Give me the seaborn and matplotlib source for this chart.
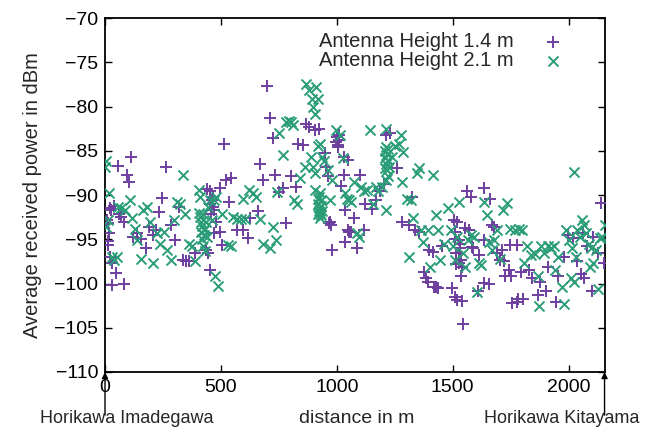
import matplotlib
matplotlib.use("Agg")
import matplotlib.pyplot as plt
import seaborn as sns
import pandas as pd

# ---- data ----
h14_x = [18, 11, 14, 23, 28, 8, 12, 20, 32, 32, 46, 57, 80, 97, 103, 111, 40, 60, 68, 80,
         122, 140, 157, 175, 190, 205, 220, 234, 247, 264, 284, 300, 318, 336, 350, 363, 390,
         440, 453, 462, 465, 470, 458, 455, 468, 444, 453, 435, 470, 479, 497, 515, 524, 544,
         533, 506, 494, 569, 596, 617, 626, 658, 667, 680, 698, 712, 725, 733, 751, 766, 780,
         801, 823, 832, 856, 869, 882, 905, 923, 950, 955, 962, 980, 968, 975, 972, 995, 1000,
         1005, 1010, 1003, 1008, 1030, 1048, 1030, 1020, 1034, 1048, 1052, 1061, 1037, 1073,
         1088, 1102, 1116, 1123, 1150, 1168, 1186, 1204, 1213, 1231, 1258, 1281, 1311, 1324,
         1338, 1356, 1374, 1383, 1392, 1413, 1428, 1437, 1455, 1496, 1508, 1517, 1540, 1544,
         1517, 1526, 1531, 1535, 1539, 1526, 1535, 1529, 1533, 1562, 1580, 1571, 1589, 1607,
         1637, 1660, 1658, 1680, 1689, 1723, 1741, 1753, 1776, 1776, 1794, 1803, 1830, 1842,
         1866, 1875, 1902, 1911, 1946, 1955, 1982, 1996, 2018, 2036, 2054, 2068, 2081, 2099,
         2125, 2138, 2152, 2107, 2063, 1398, 1420, 1505, 1554, 1634, 1747, 1712, 1726, 1755,
         1783, 1634, 1670, 1705, 1584, 1612, 1510, 1513, 1515, 1508]
h14_y = [-94.3, -95.2, -95.7, -91.5, -91.7, -92.8, -93.2, -97, -97.7, -100.2, -98.8, -86.7,
         -100, -87.7, -88.5, -85.7, -91.2, -92.2, -92.5, -93, -94.8, -94.3, -95, -96, -93.6,
         -94.5, -94, -91.9, -90.3, -86.8, -93.4, -95.1, -91.3, -97.4, -97.5, -97.5, -96.6,
         -89.3, -89.6, -90.6, -91.3, -91.7, -92.1, -91.0, -90.2, -96.6, -98.5, -96.2, -94.3,
         -93, -89.2, -84.2, -88.3, -88.1, -90.8, -95.7, -94.2, -94, -94, -94.9, -92.6, -91.8,
         -86.5, -88.3, -77.7, -81.3, -83.6, -87.7, -89.7, -89.2, -93.2, -87.9, -89.1, -84.2,
         -84.3, -82, -82.3, -82.6, -82.5, -85.3, -86.8, -87.9, -96.2, -93.2, -93.4, -93.0,
         -84, -83.5, -84.3, -83.8, -84.6, -83.2, -85.7, -86, -87.7, -89, -91.7, -94, -94.2,
         -94.2, -95.3, -92.6, -96, -87.7, -94, -91, -91.6, -90.6, -89.6, -88.7, -83.2, -83,
         -87, -93.1, -93.4, -90.2, -94, -94.2, -98.7, -99.4, -99.8, -96.4, -100.4, -100.5,
         -95.8, -100.5, -101.5, -101.9, -102, -104.6, -93, -95.1, -96, -97.4, -98.1, -97.7,
         -99.2, -96.6, -95.5, -89.6, -90.2, -94, -96, -100.8, -89.2, -90.5, -100, -93.6,
         -96.6, -97.5, -98.5, -99.2, -95.7, -102.1, -98.7, -101.7, -98.5, -99.4, -101.3,
         -99.8, -100.8, -98.1, -102.1, -99.2, -97, -94.5, -94.9, -97.5, -98.9, -99.4, -95.8,
         -100.8, -96.6, -90.9, -97.7, -94.7, -94.3, -96.2, -100.4, -92.8, -93.7, -95.1,
         -95.6, -96.2, -99.2, -102.2, -101.7, -99.9, -93.4, -97.4, -95.9, -96.8, -95,
         -96.5, -97.8, -94.2]

h21_x = [0, 5, 18, 11, 5, 29, 50, 40, 68, 86, 55, 107, 118, 131, 140, 156, 166, 179, 193,
         208, 225, 238, 256, 268, 283, 297, 309, 322, 336, 345, 363, 375, 390, 404, 408, 410,
         415, 420, 425, 428, 432, 418, 424, 430, 412, 405, 422, 435, 438, 444, 453, 462, 470,
         479, 476, 488, 506, 529, 542, 551, 569, 587, 605, 596, 623, 637, 650, 667, 680, 712,
         726, 739, 744, 751, 766, 780, 792, 801, 810, 816, 828, 841, 864, 869, 882, 894, 899,
         905, 912, 917, 890, 899, 908, 917, 926, 935, 944, 908, 926, 918, 921, 924, 927, 930,
         933, 920, 925, 929, 935, 922, 932, 962, 971, 980, 998, 1012, 1025, 1034, 1043, 1052,
         1061, 1073, 1088, 1097, 1105, 1119, 1132, 1145, 1156, 1168, 1177, 1195, 1207, 1210,
         1213, 1216, 1219, 1222, 1212, 1218, 1208, 1225, 1214, 1221, 1213, 1213, 1240, 1252,
         1267, 1276, 1285, 1281, 1302, 1320, 1311, 1329, 1347, 1356, 1365, 1370, 1392, 1401,
         1415, 1428, 1437, 1446, 1464, 1478, 1491, 1500, 1508, 1517, 1526, 1544, 1553, 1567,
         1580, 1592, 1603, 1615, 1624, 1633, 1646, 1656, 1669, 1678, 1693, 1705, 1717, 1735,
         1749, 1767, 1785, 1799, 1806, 1821, 1839, 1853, 1866, 1871, 1882, 1895, 1911, 1924,
         1936, 1941, 1953, 1971, 1980, 1989, 2002, 2016, 2025, 2030, 2038, 2048, 2059, 2068,
         2075, 2086, 2093, 2098, 2116, 2125, 2134, 2143, 2155, 2009, 2025, 2107]
h21_y = [-86.8, -86.2, -89.8, -92.8, -93.6, -97, -97, -97.3, -91.5, -91.7, -91.4, -90.6,
         -92.6, -93.8, -95.1, -97.2, -91.7, -91.3, -93, -97.7, -94.3, -95.5, -94.2, -96.2,
         -97.4, -92.8, -90.8, -91, -87.7, -92.1, -95.5, -95.8, -97.5, -89.4, -90.2, -92.5,
         -93.0, -93.5, -94.0, -94.5, -93.8, -95.0, -95.8, -96.3, -94.2, -92.0, -92.2, -93.0,
         -94.8, -91.3, -90.6, -92.8, -90.6, -90.2, -99.2, -100.3, -92.1, -95.7, -95.8, -92.5,
         -92.7, -92.7, -92.7, -90.4, -89.4, -89.8, -90.2, -92.7, -95.5, -96, -93.6, -95.1,
         -89.7, -83, -85.5, -81.7, -81.6, -81.7, -82.1, -90.6, -91, -88.1, -86.8, -77.5,
         -78.1, -79.1, -80, -80.8, -77.8, -79.2, -85.7, -86.8, -87.5, -84.5, -84.2, -85.7,
         -86.2, -89.4, -89.8, -90.4, -91.0, -91.5, -92.0, -91.2, -90.6, -92.2, -90.2, -92.6,
         -91.8, -91.8, -92.3, -87.2, -90.6, -88.3, -82.6, -83.2, -85.8, -89.8, -90.4, -90.6,
         -90.8, -88.5, -94.3, -94.7, -89.1, -89.6, -89.4, -82.6, -91, -89.1, -89.6, -89.1,
         -85.0, -85.8, -86.5, -87.2, -87.8, -86.0, -84.6, -85.4, -87.0, -86.8, -88.3, -84.8,
         -82.5, -91.7, -85.7, -84.5, -84.2, -83.2, -85.1, -88.5, -90.4, -90.6, -97, -92.6,
         -87.5, -87, -94, -95.3, -94, -98.1, -87.7, -92.3, -94, -97.4, -95.5, -91.5, -94,
         -95.8, -97.4, -94.7, -90.8, -96.6, -98.1, -95.1, -94.5, -94.7, -101, -97.7, -97.9,
         -90.8, -92.3, -95.3, -96.2, -95.1, -94, -97.2, -91.7, -90.9, -93.8, -94, -93.8, -94,
         -97.7, -95.8, -96.8, -96.7, -99.2, -102.5, -95.8, -96.6, -95.8, -96, -95.8, -98.5,
         -97, -100.4, -102.3, -94, -95.1, -96, -87.4, -97, -94, -94.7, -92.8, -93.4, -94.3,
         -95.5, -98.1, -96, -96.2, -100.6, -94.9, -94.7, -93.4, -99.4, -99.8, -97.7]

labels = ["Antenna Height 1.4 m", "Antenna Height 2.1 m"]
colors = ["#6f3fa0", "#2a9d78"]
x_ticks = [0, 500, 1000, 1500, 2000]
y_ticks = [-110, -105, -100, -95, -90, -85, -80, -75, -70]

df14 = pd.DataFrame({"distance": h14_x, "power": h14_y})
df21 = pd.DataFrame({"distance": h21_x, "power": h21_y})

sns.set_style("ticks")
plt.rcParams["font.family"] = ["Liberation Sans", "DejaVu Sans"]

fig = plt.figure(figsize=(6.49, 4.32), dpi=100)
ax = fig.add_axes([0.1618, 0.1389, 0.7697, 0.8194])

sns.scatterplot(data=df14, x="distance", y="power", marker="+", color=colors[0],
                s=75, linewidth=1.4, ax=ax, label=labels[0], zorder=3)
sns.scatterplot(data=df21, x="distance", y="power", marker="x", color=colors[1],
                s=52, linewidth=1.4, ax=ax, label=labels[1], zorder=3)

ax.set_xlim(0, 2155)
ax.set_ylim(-110, -70)
ax.set_xticks(x_ticks)
ax.set_yticks(y_ticks)
ax.set_xlabel("")
ax.set_ylabel("Average received power in dBm", fontsize=14.5, labelpad=9)
ax.tick_params(direction="in", top=True, right=True, length=5, width=1,
               labelsize=14, pad=5, colors="black")
for sp in ax.spines.values():
    sp.set_visible(True)
    sp.set_linewidth(1.3)
    sp.set_color("black")

leg = ax.legend(loc="upper right", bbox_to_anchor=(0.955, 1.0), frameon=False,
                markerfirst=False, fontsize=14.5, handletextpad=1.2,
                labelspacing=0.0, borderaxespad=0.3, handlelength=1.5)

# arrows marking the two ends of the route
for xv in (0, 2155):
    ax.annotate("", xy=(xv, 0), xycoords=("data", "axes fraction"),
                xytext=(0, -31), textcoords="offset points",
                arrowprops=dict(arrowstyle="-|>", color="black", lw=1.0,
                                mutation_scale=9, shrinkA=0, shrinkB=0),
                annotation_clip=False)

fig.text(0.196, 0.032, "Horikawa Imadegawa", ha="center", va="center", fontsize=13)
fig.text(0.549, 0.032, "distance in m", ha="center", va="center", fontsize=14)
fig.text(0.865, 0.032, "Horikawa Kitayama", ha="center", va="center", fontsize=13)

fig.savefig("out.png", dpi=100)
